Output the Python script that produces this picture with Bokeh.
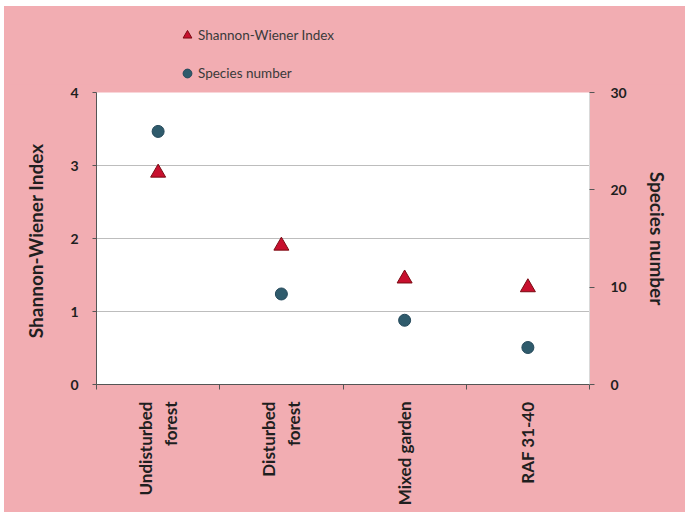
import numpy as np
from bokeh.plotting import figure
from bokeh.layouts import column
from bokeh.models import Range1d, LinearAxis, FixedTicker, Legend, LegendItem, ColumnDataSource
from bokeh.embed import file_html
from bokeh.resources import INLINE

# Land-use categories and measured diversity
sites = ["Undisturbed forest", "Disturbed forest", "Mixed garden", "RAF 31-40"]
site_labels = ["Undisturbed\nforest", "Disturbed\nforest", "Mixed garden", "RAF 31-40"]
shannon_index = [2.9, 1.9, 1.45, 1.33]
species_number = [26, 9.3, 6.6, 3.8]
index_ticks = [0, 1, 2, 3, 4]
species_ticks = [0, 10, 20, 30]

PINK = "#F2ADB2"
FONT = "Lato"
TXT = "#1f1f1f"
TRI_FILL, TRI_LINE = "#C8102E", "#7A0A12"
DOT_FILL, DOT_LINE = "#2F5B6C", "#24485A"

# categories sit in the middle of unit-wide slots; slot edges carry the tick marks
centers = [i + 0.5 for i in range(len(sites))]
edges = list(range(len(sites) + 1))

src = ColumnDataSource(dict(x=centers, site=sites, h=shannon_index, n=species_number))

p = figure(frame_width=493, frame_height=292,
           min_border_left=92, min_border_right=96, min_border_top=8, min_border_bottom=128,
           x_range=Range1d(0, len(sites)), y_range=Range1d(0, 4),
           output_backend="svg", toolbar_location=None)
p.background_fill_color = "white"
p.border_fill_color = PINK
p.outline_line_color = None

p.extra_y_ranges = {"species": Range1d(0, 30)}

# bottom axis: labels at slot centres, ticks at slot edges
p.xaxis.ticker = FixedTicker(ticks=centers, minor_ticks=edges)
p.xaxis.major_label_overrides = {c: lab for c, lab in zip(centers, site_labels)}
p.xaxis.major_label_orientation = np.pi / 2
p.xaxis.major_tick_line_color = None
p.xaxis.major_tick_out = 0
p.xaxis.major_tick_in = 0
p.xaxis.minor_tick_line_color = "#555555"
p.xaxis.minor_tick_out = 5
p.xaxis.minor_tick_in = 0
p.xaxis.major_label_standoff = 12
p.xaxis.axis_line_color = "#555555"
p.xaxis.major_label_text_font = FONT
p.xaxis.major_label_text_font_style = "bold"
p.xaxis.major_label_text_font_size = "17px"
p.xaxis.major_label_text_color = TXT
p.xgrid.grid_line_color = None

# left axis: Shannon-Wiener index
ax1 = p.yaxis[0]
ax1.ticker = FixedTicker(ticks=index_ticks, minor_ticks=[])
ax1.axis_label = "Shannon-Wiener  Index"
ax1.axis_line_color = "#555555"
ax1.major_tick_line_color = "#555555"
ax1.major_tick_out = 4
ax1.major_tick_in = 0
ax1.major_label_standoff = 14
ax1.axis_label_standoff = 20

# right axis: species number
ax2 = LinearAxis(y_range_name="species", ticker=FixedTicker(ticks=species_ticks, minor_ticks=[]),
                 axis_label="Species number")
ax2.axis_line_color = "#D9D9D9"
ax2.major_tick_line_color = "#555555"
ax2.major_tick_out = 5
ax2.major_tick_in = 0
ax2.major_label_standoff = 16
ax2.axis_label_standoff = 16
p.add_layout(ax2, "right")

for ax in (ax1, ax2):
    ax.major_label_text_font = FONT
    ax.major_label_text_font_style = "bold"
    ax.major_label_text_font_size = "14px"
    ax.major_label_text_color = TXT
    ax.axis_label_text_font = FONT
    ax.axis_label_text_font_style = "bold"
    ax.axis_label_text_font_size = "19px"
    ax.axis_label_text_color = TXT

p.ygrid.ticker = FixedTicker(ticks=[1, 2, 3, 4])
p.ygrid.grid_line_color = "#BDBDBD"
p.ygrid.grid_line_width = 1

p.scatter("x", "h", source=src, marker="triangle", size=15,
          fill_color=TRI_FILL, line_color=TRI_LINE, line_width=1)
p.scatter("x", "n", source=src, y_range_name="species", marker="circle", size=12,
          fill_color=DOT_FILL, line_color=DOT_LINE, line_width=1)

# key band above the plot: swatch-only renderers (NaN position, never drawn in the frame)
key = figure(width=681, height=78, x_range=Range1d(0, 1), y_range=Range1d(0, 1),
             min_border=0, output_backend="svg", toolbar_location=None)
key.axis.visible = False
key.grid.grid_line_color = None
key.background_fill_color = PINK
key.border_fill_color = PINK
key.outline_line_color = None
swatch = ColumnDataSource(dict(x=[np.nan], y=[np.nan]))
k_tri = key.scatter("x", "y", source=swatch, marker="triangle", size=12,
                    fill_color=TRI_FILL, line_color=TRI_LINE, line_width=1)
k_dot = key.scatter("x", "y", source=swatch, marker="circle", size=9,
                    fill_color=DOT_FILL, line_color=DOT_LINE, line_width=1)
legend = Legend(items=[LegendItem(label="Shannon-Wiener Index", renderers=[k_tri]),
                       LegendItem(label="Species number", renderers=[k_dot])],
                location=(80, 0), orientation="vertical",
                background_fill_alpha=0, border_line_color=None,
                label_text_font=FONT, label_text_font_size="13.5px", label_text_color="#3a3a3a",
                glyph_width=22, glyph_height=22, label_standoff=0, spacing=16,
                padding=0, margin=0, label_height=22)
key.add_layout(legend, "center")

page = column(key, p, spacing=0, margin=(6, 1, 0, 4), background=PINK)
open("out.html", "w").write(file_html(page, INLINE))
